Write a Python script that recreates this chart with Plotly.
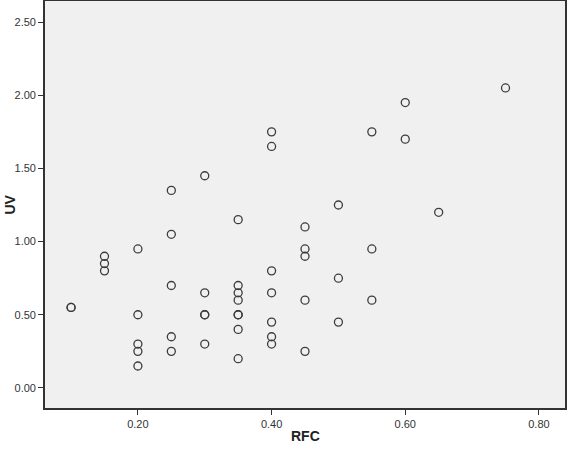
import plotly.graph_objects as go

rfc = [0.10, 0.10,
       0.15, 0.15, 0.15,
       0.20, 0.20, 0.20, 0.20, 0.20,
       0.25, 0.25, 0.25, 0.25, 0.25,
       0.30, 0.30, 0.30, 0.30, 0.30,
       0.35, 0.35, 0.35, 0.35, 0.35, 0.35, 0.35, 0.35,
       0.40, 0.40, 0.40, 0.40, 0.40, 0.40, 0.40,
       0.45, 0.45, 0.45, 0.45, 0.45,
       0.50, 0.50, 0.50,
       0.55, 0.55, 0.55,
       0.60, 0.60,
       0.65,
       0.75]
uv = [0.55, 0.55,
      0.90, 0.85, 0.80,
      0.95, 0.50, 0.30, 0.25, 0.15,
      1.35, 1.05, 0.70, 0.35, 0.25,
      1.45, 0.65, 0.50, 0.50, 0.30,
      1.15, 0.70, 0.65, 0.60, 0.50, 0.50, 0.40, 0.20,
      1.75, 1.65, 0.80, 0.65, 0.45, 0.35, 0.30,
      1.10, 0.95, 0.90, 0.60, 0.25,
      1.25, 0.75, 0.45,
      1.75, 0.95, 0.60,
      1.95, 1.70,
      1.20,
      2.05]

x_ticks = [0.20, 0.40, 0.60, 0.80]
y_ticks = [0.00, 0.50, 1.00, 1.50, 2.00, 2.50]

FONT = "Liberation Sans, Arial, sans-serif"

fig = go.Figure()
fig.add_trace(go.Scatter(
    x=rfc, y=uv, mode="markers",
    marker=dict(symbol="circle-open", size=8, color="#3c3c3c", line=dict(width=1.3, color="#3c3c3c")),
    showlegend=False, hoverinfo="x+y",
))

axis_common = dict(
    showgrid=False, zeroline=False, showline=True, linecolor="#333333", linewidth=1.6,
    mirror=True, ticks="outside", ticklen=5, tickwidth=1.2, tickcolor="#333333",
    automargin=False,
    tickfont=dict(family=FONT, size=11, color="#333333"),
)

W, H = 567, 451
L, R, T, B = 45, 2, 1, 43
pw, ph = W - L - R, H - T - B

fig.update_layout(
    width=W, height=H,
    margin=dict(l=L, r=R, t=T, b=B, autoexpand=False),
    paper_bgcolor="white", plot_bgcolor="#f0f0f0",
    xaxis=dict(axis_common, range=[0.061, 0.839], tickvals=x_ticks,
               ticktext=[f"{v:.2f}" for v in x_ticks]),
    yaxis=dict(axis_common, range=[-0.137, 2.644], tickvals=y_ticks,
               ticktext=[f"{v:.2f}" for v in y_ticks]),
    annotations=[
        dict(text="<b>RFC</b>", xref="paper", yref="paper", x=0.5, y=-28 / ph,
             xanchor="center", yanchor="middle", showarrow=False,
             font=dict(family=FONT, size=14, color="#222222")),
        dict(text="<b>UV</b>", xref="paper", yref="paper", x=(9 - L) / pw, y=0.5,
             xanchor="center", yanchor="middle", showarrow=False, textangle=-90,
             font=dict(family=FONT, size=14, color="#222222")),
    ],
)

fig.write_html(
    "out.html",
    config={"displayModeBar": False},
    post_script="document.body.style.margin='0';document.body.style.overflow='hidden';",
)
